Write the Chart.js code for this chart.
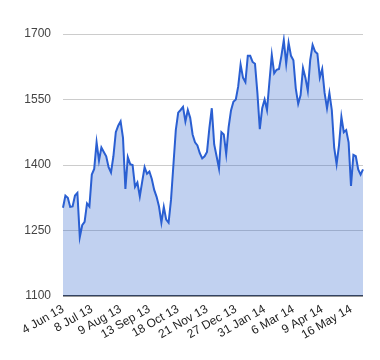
<!DOCTYPE html>
<html>
<head>
<meta charset="utf-8">
<script src="https://cdn.jsdelivr.net/npm/chart.js@4/dist/chart.umd.min.js"></script>
<style>
html,body{margin:0;padding:0;background:#fff;}
canvas{display:block;}
</style>
</head>
<body>
<canvas id="c" width="380" height="360"></canvas>
<script>
const tickLabels = ["4 Jun 13","8 Jul 13","9 Aug 13","13 Sep 13","18 Oct 13","21 Nov 13","27 Dec 13","31 Jan 14","6 Mar 14","9 Apr 14","16 May 14"];
const tickEvery = 12;
const values = [
1302,1330,1325,1304,1305,1330,1336,1235,1262,1270,
1312,1305,1378,1391,1452,1410,1440,1430,1420,1395,
1383,1420,1475,1490,1500,1462,1345,1418,1402,1400,
1350,1360,1328,1362,1395,1380,1385,1368,1343,1327,
1305,1268,1304,1275,1268,1320,1400,1480,1520,1526,
1533,1500,1526,1508,1470,1452,1445,1427,1415,1420,
1430,1485,1530,1447,1420,1392,1475,1470,1425,1486,
1525,1545,1550,1580,1630,1600,1590,1650,1650,1636,
1632,1565,1482,1530,1550,1526,1590,1652,1610,1618,
1620,1650,1686,1632,1680,1650,1640,1575,1540,1560,
1622,1600,1570,1640,1675,1660,1655,1600,1620,1565,
1530,1565,1526,1440,1402,1445,1510,1475,1480,1452,
1352,1423,1420,1390,1378,1390
];
const yTicks = [1100,1250,1400,1550,1700];
const categories = values.map((v,i)=>i);

new Chart(document.getElementById('c'), {
  type: 'line',
  data: {
    labels: categories,
    datasets: [{
      data: values,
      borderColor: '#2a5fd2',
      borderWidth: 2,
      backgroundColor: 'rgba(51,102,204,0.3)',
      fill: 'start',
      pointRadius: 0,
      tension: 0
    }]
  },
  options: {
    responsive: false,
    animation: false,
    layout: { padding: { top: 34, right: 17, left: 0, bottom: 0 } },
    plugins: { legend: { display: false }, tooltip: { enabled: false } },
    scales: {
      x: {
        grid: { display: false, drawTicks: false },
        border: { display: false },
        afterFit: s => { s.height = 64; },
        ticks: {
          autoSkip: false,
          minRotation: 30,
          maxRotation: 30,
          padding: 6,
          color: '#222',
          font: { family: 'Arial, "Liberation Sans", sans-serif', size: 12 },
          callback: (v, i) => (i % tickEvery === 0 ? tickLabels[i / tickEvery] : null)
        }
      },
      y: {
        min: 1100,
        max: 1700,
        afterFit: s => { s.width = 63; },
        afterBuildTicks: s => { s.ticks = yTicks.map(v => ({ value: v })); },
        grid: {
          drawTicks: false,
          color: c => (c.tick && c.tick.value === 1100 ? '#333' : '#cccccc'),
          lineWidth: c => (c.tick && c.tick.value === 1100 ? 1.5 : 1)
        },
        border: { display: false },
        ticks: {
          padding: 12,
          color: '#444',
          font: { family: 'Arial, "Liberation Sans", sans-serif', size: 12 },
          callback: v => String(v)
        }
      }
    }
  }
});
</script>
</body>
</html>
